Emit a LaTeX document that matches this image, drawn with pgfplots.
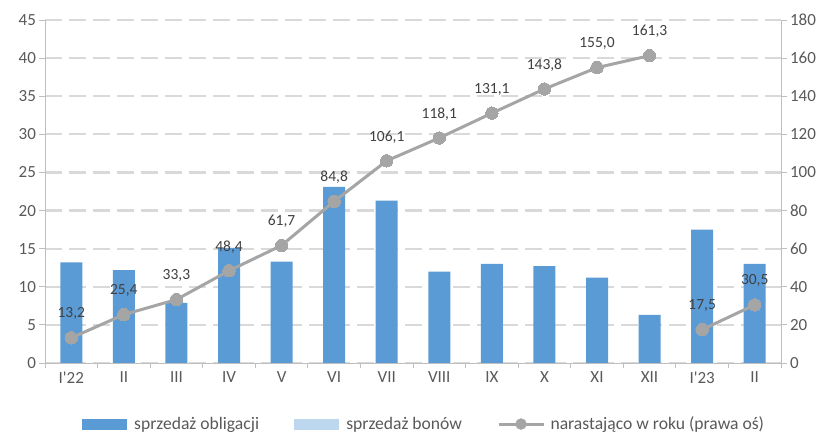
\documentclass[border=0pt]{standalone}
\usepackage{fontspec}
\setmainfont{Carlito}
\usepackage{pgfplots}
\pgfplotsset{compat=1.18}
\definecolor{barblue}{HTML}{5B9BD5}
\definecolor{lightblue}{HTML}{BDD7EE}
\definecolor{linegray}{HTML}{A5A5A5}
\definecolor{txt}{HTML}{595959}
\definecolor{lbl}{HTML}{404040}
\definecolor{gridc}{HTML}{D9D9D9}
\definecolor{axc}{HTML}{BFBFBF}
\pgfkeys{/pgf/number format/assume math mode=true}
\begin{document}
\begin{tikzpicture}
\useasboundingbox (-45pt,-72pt) rectangle (782pt,363pt);
\pgfplotsset{
  base/.style={
    scale only axis, width=736pt, height=343pt,
    at={(0pt,0pt)}, anchor=south west,
    xmin=-0.5, xmax=13.5,
    /pgf/number format/assume math mode=true,
    ticklabel style={font=\fontsize{17}{20}\selectfont, text=txt},
    tick style={axc, line width=0.8pt},
    tick align=outside, major tick length=5.5pt,
    axis line style={axc, line width=0.8pt},
  },
  lineplot/.style={linegray, line width=3pt, mark=*, mark size=6.2pt,
    mark options={fill=linegray, draw=linegray, line width=0pt},
    nodes near coords={\pgfmathprintnumber[fixed,fixed zerofill,precision=1,use comma]{\pgfplotspointmeta}},
    nodes near coords style={anchor=center, yshift=24pt, font=\fontsize{15.5}{18}\selectfont, text=lbl},
  },
}
\begin{axis}[base,
  ymin=0, ymax=45, ytick={0,5,...,45},
  axis y line*=left, axis x line*=bottom,
  ymajorgrids,
  major grid style={gridc, line width=2.2pt, dash pattern=on 17pt off 7pt},
  xtick={0,...,13},
  xticklabels={I\textquotesingle22,II,III,IV,V,VI,VII,VIII,IX,X,XI,XII,I\textquotesingle23,II},
  xtick style={draw=none},
  extra x ticks={-0.5,0.5,...,13.5},
  extra x tick labels={},
  extra x tick style={grid=none, xtick style={draw=axc, line width=0.8pt}},
]
\addplot[ybar, bar width=22pt, fill=barblue, draw=none] coordinates {
(0,13.2) (1,12.2) (2,7.9) (3,15.1) (4,13.3) (5,23.1) (6,21.3)
(7,12.0) (8,13.0) (9,12.7) (10,11.2) (11,6.3) (12,17.5) (13,13.0)};
\end{axis}
\begin{axis}[base,
  ymin=0, ymax=180, ytick={0,20,...,180},
  axis y line*=right, axis x line=none,
  legend style={at={(0.515,-0.178)}, anchor=center, legend columns=3,
    draw=none, fill=none, font=\fontsize{17.6}{20}\selectfont, text=txt,
    /tikz/every even column/.append style={column sep=33pt}},
]
\addlegendimage{legend image code/.code={\fill[barblue] (0pt,-5pt) rectangle (44pt,5pt); \path[draw=none,fill=none] (0pt,0pt) -- (50pt,0pt);}}
\addlegendimage{legend image code/.code={\fill[lightblue] (0pt,-5pt) rectangle (44pt,5pt); \path[draw=none,fill=none] (0pt,0pt) -- (50pt,0pt);}}
\addlegendimage{legend image code/.code={\draw[linegray, line width=3pt] (0pt,0pt) -- (45pt,0pt); \fill[linegray] (22.5pt,0pt) circle (5.5pt); \path[draw=none,fill=none] (0pt,0pt) -- (50pt,0pt);}}
\addplot[lineplot, forget plot] coordinates {
(0,13.2) (1,25.4) (2,33.3) (3,48.4) (4,61.7) (5,84.8) (6,106.1)
(7,118.1) (8,131.1) (9,143.8) (10,155.0) (11,161.3)};
\addplot[lineplot, forget plot] coordinates {(12,17.5) (13,30.5)};
\legend{sprzedaż obligacji, sprzedaż bonów, narastająco w roku (prawa oś)}
\end{axis}
\end{tikzpicture}
\end{document}
